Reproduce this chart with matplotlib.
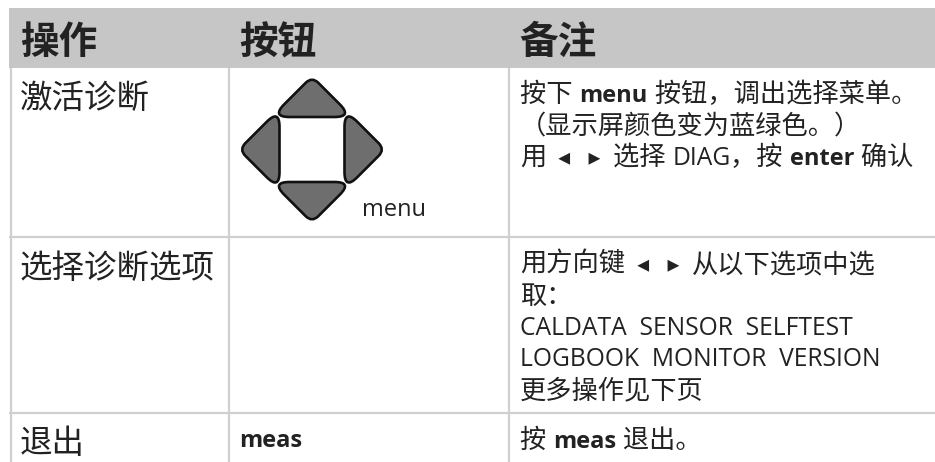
import matplotlib
matplotlib.use('Agg')
import matplotlib.pyplot as plt
import numpy as np
from matplotlib.patches import Rectangle, PathPatch
from matplotlib.path import Path

# Table contents, each line is a list of (text, style) runs
headers = ['操作', '按钮', '备注']
actions = ['激活诊断', '选择诊断选项', '退出']
button_label = 'menu'
button_meas = 'meas'
notes = [
    [[('按下 ', 'zh'), ('menu', 'bold'), (' 按钮，调出选择菜单。', 'zh')],
     [('（显示屏颜色变为蓝绿色。）', 'zh')],
     [('用', 'zh'), ('  ◂   ▸  ', 'arrow'), ('选择 ', 'zh'), ('DIAG', 'en'), ('，按 ', 'zh'), ('enter', 'bold'), (' 确认', 'zh')]],
    [[('用方向键', 'zh'), ('  ◂   ▸  ', 'arrow'), ('从以下选项中选', 'zh')],
     [('取：', 'zh')],
     [('CALDATA  SENSOR  SELFTEST', 'en')],
     [('LOGBOOK  MONITOR  VERSION', 'en')],
     [('更多操作见下页', 'zh')]],
    [[('按 ', 'zh'), ('meas', 'bold'), (' 退出。', 'zh')]],
]
sizes = {'zh': 18.9, 'en': 17.7, 'bold': 17, 'arrow': 17}

fonts = ['Open Sans', 'Noto Sans CJK SC', 'DejaVu Sans']
plt.rcParams['font.family'] = fonts
dark = '#222222'
line_col = '#cfcfcf'

fig = plt.figure(figsize=(9.35, 4.62), dpi=100)
ax = fig.add_axes([0, 0, 1, 1])
ax.set_xlim(0, 935)
ax.set_ylim(462, 0)
ax.axis('off')

# Header band and grid
ax.add_patch(Rectangle((9.3, 8), 926, 60, fc='#c6c6c6', ec='none'))
for x in [10.7, 229.3, 509.3]:
    ax.plot([x, x], [68, 462], color=line_col, lw=1.6, solid_capstyle='butt')
for y in [237, 413.3]:
    ax.plot([9.3, 935], [y, y], color=line_col, lw=1.6, solid_capstyle='butt')

for x, h in zip([20, 239, 519], headers):
    ax.text(x, 54, h, fontsize=27.8, fontweight='bold', color=dark, va='baseline')

for y, a in zip([107.5, 277.5, 452.5], actions):
    ax.text(19.5, y, a, fontsize=23.4, color=dark, va='baseline')


def rounded_triangle(pts, cuts):
    # polygon with its corners replaced by quadratic curves
    verts, codes = [], []
    n = len(pts)
    for i in range(n):
        p = np.array(pts[i], float)
        a = np.array(pts[i - 1], float)
        b = np.array(pts[(i + 1) % n], float)
        start = p + (a - p) / np.linalg.norm(a - p) * cuts[i]
        end = p + (b - p) / np.linalg.norm(b - p) * cuts[i]
        verts += [start, p, end]
        codes += [Path.LINETO if i else Path.MOVETO, Path.CURVE3, Path.CURVE3]
    verts.append(verts[0])
    codes.append(Path.CLOSEPOLY)
    return Path(verts, codes)


# Direction keys
cx, cy = 312, 149.5
base, tip = 32.5, 73
half = tip - base
for rot in range(4):
    c, s = np.cos(rot * np.pi / 2), np.sin(rot * np.pi / 2)
    tri = [(0, -tip), (half, -base), (-half, -base)]
    pts = [(cx + px * c - py * s, cy + px * s + py * c) for px, py in tri]
    ax.add_patch(PathPatch(rounded_triangle(pts, [9, 18, 18]), fc='#6e6e6e', ec='#111111',
                           lw=1.9, joinstyle='round'))

ax.text(362, 216, button_label, fontsize=17, color=dark, va='baseline')
ax.text(239, 447, button_meas, fontsize=17, fontweight='bold', color=dark, va='baseline')

fig.canvas.draw()
renderer = fig.canvas.get_renderer()


def draw_runs(x, y, runs):
    # lay the runs one after the other, measuring each on the way
    for text, style in runs:
        t = ax.text(x, y, text, fontsize=sizes[style], color=dark, va='baseline',
                    fontweight='bold' if style == 'bold' else 'normal')
        w, _, _ = renderer.get_text_width_height_descent(text, t.get_fontproperties(), False)
        x += w


for first_y, lines in zip([102, 272, 448], notes):
    for i, runs in enumerate(lines):
        draw_runs(520, first_y + i * 31.5, runs)

fig.savefig('out.png', dpi=100)
